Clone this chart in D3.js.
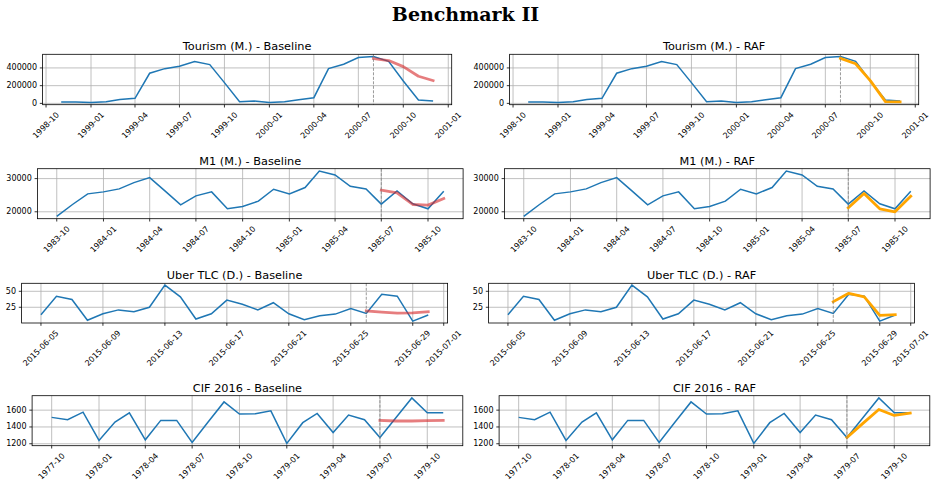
<!DOCTYPE html>
<html>
<head>
<meta charset="utf-8">
<script src="https://cdn.jsdelivr.net/npm/d3@7"></script>
<style>
  body { margin: 0; background: #fff; }
  svg { display: block; }
  text { font-family: "DejaVu Sans", sans-serif; fill: #000; }
</style>
</head>
<body>
<div id="chart"></div>
<script>
// ---- data ----
var horizon = 5;

// Tourism (monthly, starts 1998-11)
var tourismStart = "1998-11-01";
var tourismSeries = [15000, 15000, 11000, 19000, 45000, 57000, 340000, 392000, 419000, 472000, 438000, 234000, 19000,
                     26000, 11000, 19000, 42000, 64000, 392000, 442000, 517000, 528000, 475000, 253000, 38000, 26000];
var tourismBase = [506000, 483000, 415000, 306000, 257000];
var tourismRaf = [508000, 447000, 257000, 20000, 18000];
var tourismXTicks = ["1998-10", "1999-01", "1999-04", "1999-07", "1999-10", "2000-01", "2000-04", "2000-07", "2000-10", "2001-01"];
var tourismYTicks = [0, 200000, 400000];

// M1 (monthly, starts 1983-10)
var m1Start = "1983-10-01";
var m1Series = [18600, 22200, 25400, 26000, 26900, 28800, 30300, 26300, 22100, 24800, 26000, 20900, 21600,
                23200, 26800, 25400, 27300, 32300, 31100, 27700, 26900, 22300, 26300, 22400, 20900, 26200];
var m1Base = [26500, 25700, 22200, 22000, 24000];
var m1Raf = [21200, 25500, 20900, 20000, 24700];
var m1XTicks = ["1983-10", "1984-01", "1984-04", "1984-07", "1984-10", "1985-01", "1985-04", "1985-07", "1985-10"];
var m1YTicks = [20000, 30000];

// Uber TLC (daily, starts 2015-06-05)
var uberStart = "2015-06-05";
var uberSeries = [13.3, 42.3, 37.2, 4.6, 14.8, 20.9, 17.9, 25, 59.7, 41.3, 6.6, 14.8, 36.2,
                  29.6, 20.9, 32.1, 14.8, 5.6, 11.7, 14.3, 23, 15.3, 45.4, 42.3, 3.2, 12.8];
var uberBase = [19.4, 17.4, 15.8, 16.3, 17.9];
var uberRaf = [33.7, 46.9, 41.3, 12.2, 13.3];
var uberXTicks = ["2015-06-05", "2015-06-09", "2015-06-13", "2015-06-17", "2015-06-21", "2015-06-25", "2015-06-29", "2015-07-01"];
var uberYTicks = [25, 50];

// CIF 2016 (monthly, starts 1977-10)
var cifStart = "1977-10-01";
var cifSeries = [1514, 1486, 1576, 1239, 1459, 1569, 1247, 1478, 1478, 1216, 1459, 1698, 1553,
                 1557, 1592, 1204, 1451, 1561, 1333, 1541, 1486, 1275, 1510, 1745, 1569, 1569];
var cifBase = [1478, 1471, 1471, 1475, 1478];
var cifRaf = [1275, 1443, 1608, 1537, 1565];
var cifXTicks = ["1977-10", "1978-01", "1978-04", "1978-07", "1978-10", "1979-01", "1979-04", "1979-07", "1979-10"];
var cifYTicks = [1200, 1400, 1600];

// ---- layout ----
var W = 937, H = 486;
var rowTop = [54.3, 168.7, 283.3, 395.7],
    rowBottom = [104.7, 218.7, 323, 445.7],
    rowLeft = [42.6, 37.4, 21.6, 32.1],
    rowRight = [451.7, 463.1, 447.6, 462.8],
    colShift = [0, 467];

var parseDay = d3.timeParse("%Y-%m-%d"),
    parseMonth = d3.timeParse("%Y-%m");

function monthDates(start, n) { var s = parseDay(start); return d3.range(n).map(function(i) { return d3.timeMonth.offset(s, i); }); }
function dayDates(start, n) { var s = parseDay(start); return d3.range(n).map(function(i) { return d3.timeDay.offset(s, i); }); }

var datasets = [
  {name: "Tourism (M.)", dates: monthDates(tourismStart, tourismSeries.length), series: tourismSeries, base: tourismBase, raf: tourismRaf,
   xTicks: tourismXTicks.map(function(d) { return parseMonth(d); }), xFmt: d3.timeFormat("%Y-%m"), yTicks: tourismYTicks},
  {name: "M1 (M.)", dates: monthDates(m1Start, m1Series.length), series: m1Series, base: m1Base, raf: m1Raf,
   xTicks: m1XTicks.map(function(d) { return parseMonth(d); }), xFmt: d3.timeFormat("%Y-%m"), yTicks: m1YTicks},
  {name: "Uber TLC (D.)", dates: dayDates(uberStart, uberSeries.length), series: uberSeries, base: uberBase, raf: uberRaf,
   xTicks: uberXTicks.map(function(d) { return parseDay(d); }), xFmt: d3.timeFormat("%Y-%m-%d"), yTicks: uberYTicks},
  {name: "CIF 2016", dates: monthDates(cifStart, cifSeries.length), series: cifSeries, base: cifBase, raf: cifRaf,
   xTicks: cifXTicks.map(function(d) { return parseMonth(d); }), xFmt: d3.timeFormat("%Y-%m"), yTicks: cifYTicks}
];

var svg = d3.select("#chart").append("svg")
  .attr("width", W)
  .attr("height", H);

// super title
svg.append("text")
  .attr("x", W / 2 - 3)
  .attr("y", 21)
  .attr("text-anchor", "middle")
  .style("font-family", "'DejaVu Serif', serif")
  .style("font-weight", "bold")
  .style("font-size", "19px")
  .text("Benchmark II");

function drawPanel(ds, row, col) {
  var left = rowLeft[row] + colShift[col],
      right = rowRight[row] + colShift[col],
      top = rowTop[row],
      bottom = rowBottom[row];
  var fc = col === 0 ? ds.base : ds.raf;
  var fcColor = col === 0 ? "#d62728" : "#ffa500";
  var fcOpacity = col === 0 ? 0.6 : 1;
  var fcDates = ds.dates.slice(ds.dates.length - horizon);

  // x with 5% margins like matplotlib
  var t0 = +ds.dates[0], t1 = +ds.dates[ds.dates.length - 1], tm = (t1 - t0) * 0.05;
  var x = d3.scaleTime().domain([new Date(t0 - tm), new Date(t1 + tm)]).range([left, right]);
  var all = ds.series.concat(fc);
  var v0 = d3.min(all), v1 = d3.max(all), vm = (v1 - v0) * 0.05;
  var y = d3.scaleLinear().domain([v0 - vm, v1 + vm]).range([bottom, top]);

  var g = svg.append("g");

  // grid
  g.append("g").selectAll("line").data(ds.xTicks).join("line")
    .attr("x1", function(d) { return x(d); }).attr("x2", function(d) { return x(d); })
    .attr("y1", top).attr("y2", bottom)
    .attr("stroke", "#b0b0b0").attr("stroke-width", 0.8);
  g.append("g").selectAll("line").data(ds.yTicks).join("line")
    .attr("x1", left).attr("x2", right)
    .attr("y1", function(d) { return y(d); }).attr("y2", function(d) { return y(d); })
    .attr("stroke", "#b0b0b0").attr("stroke-width", 0.8);

  var line = d3.line()
    .x(function(d) { return x(d[0]); })
    .y(function(d) { return y(d[1]); });

  g.append("path")
    .datum(d3.zip(ds.dates, ds.series))
    .attr("d", line)
    .attr("fill", "none")
    .attr("stroke", "#1f77b4")
    .attr("stroke-width", 1.5);

  g.append("path")
    .datum(d3.zip(fcDates, fc))
    .attr("d", line)
    .attr("fill", "none")
    .attr("stroke", fcColor)
    .attr("stroke-opacity", fcOpacity)
    .attr("stroke-width", 2.8)
    .attr("stroke-linejoin", "round")
    .attr("stroke-linecap", "square");

  // forecast start
  g.append("line")
    .attr("x1", x(fcDates[0])).attr("x2", x(fcDates[0]))
    .attr("y1", top).attr("y2", bottom)
    .attr("stroke", "#808080").attr("stroke-width", 0.8)
    .attr("stroke-dasharray", "3,1.5");

  // frame
  g.append("rect")
    .attr("x", left).attr("y", top)
    .attr("width", right - left).attr("height", bottom - top)
    .attr("fill", "none").attr("stroke", "#000").attr("stroke-width", 0.8);

  // x ticks + rotated labels
  ds.xTicks.forEach(function(d) {
    var xp = x(d);
    g.append("line").attr("x1", xp).attr("x2", xp).attr("y1", bottom).attr("y2", bottom + 2.8)
      .attr("stroke", "#000").attr("stroke-width", 0.8);
    var t = g.append("text")
      .attr("text-anchor", "middle")
      .attr("dominant-baseline", "central")
      .style("font-size", "8px")
      .text(ds.xFmt(d));
    var w = t.node().getComputedTextLength();
    var hh = (w + 9.3) * Math.SQRT1_2;
    t.attr("transform", "translate(" + xp + "," + (bottom + 5.6 + hh / 2) + ") rotate(-45)");
  });

  // y ticks
  ds.yTicks.forEach(function(d) {
    var yp = y(d);
    g.append("line").attr("x1", left - 2.8).attr("x2", left).attr("y1", yp).attr("y2", yp)
      .attr("stroke", "#000").attr("stroke-width", 0.8);
    g.append("text")
      .attr("x", left - 5.6).attr("y", yp)
      .attr("text-anchor", "end")
      .attr("dominant-baseline", "central")
      .style("font-size", "8px")
      .text(d);
  });

  // title
  g.append("text")
    .attr("x", (left + right) / 2)
    .attr("y", top - 4)
    .attr("text-anchor", "middle")
    .style("font-size", "11.3px")
    .text(ds.name + " - " + (col === 0 ? "Baseline" : "RAF"));
}

datasets.forEach(function(ds, row) {
  drawPanel(ds, row, 0);
  drawPanel(ds, row, 1);
});
</script>
</body>
</html>
